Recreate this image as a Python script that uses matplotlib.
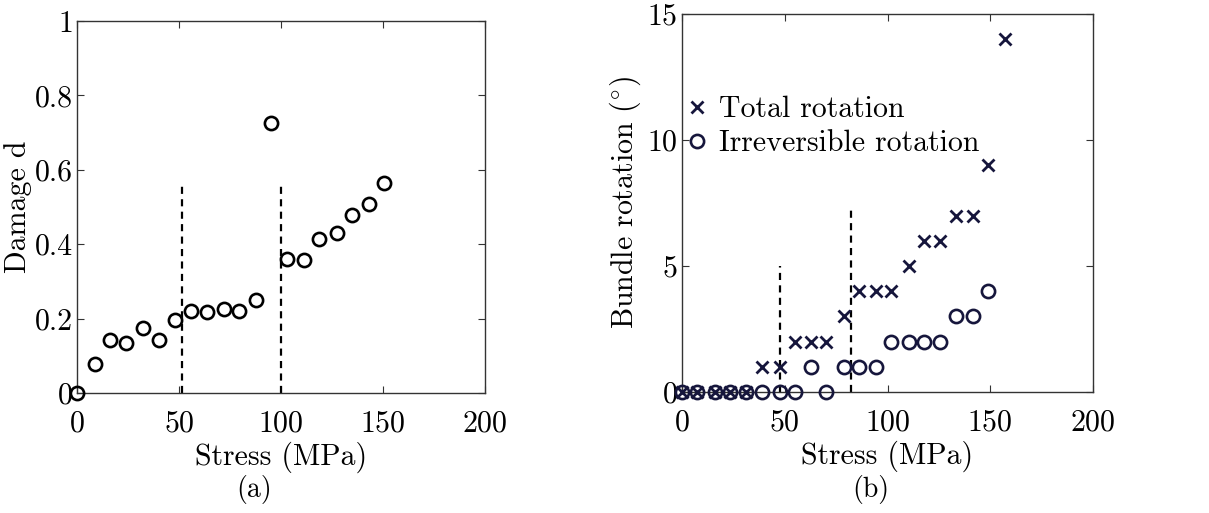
import matplotlib
matplotlib.use("Agg")
import matplotlib.pyplot as plt

plt.rcParams['font.family'] = ['cmr10', 'DejaVu Serif']
plt.rcParams['mathtext.fontset'] = 'cm'
plt.rcParams['axes.formatter.use_mathtext'] = True

# ---- Data (a) ----
stress_a = [0, 8.7, 16.0, 24.2, 32.5, 40.4, 47.8, 56.1, 63.8, 72.1, 79.5, 87.7,
            95.3, 102.7, 111.2, 118.7, 127.2, 134.7, 142.9, 150.6]
damage = [0.0, 0.079, 0.143, 0.135, 0.175, 0.143, 0.197, 0.220, 0.217, 0.226, 0.221,
          0.249, 0.726, 0.361, 0.357, 0.413, 0.431, 0.478, 0.508, 0.565]
dash_x_a = [51.7, 100.2]
dash_top_a = 0.56

# ---- Data (b) ----
stress_b = [0, 7.5, 15.9, 23.5, 31.3, 38.9, 47.5, 55.2, 62.8, 70.2, 78.8, 86.3,
            94.2, 101.9, 110.3, 117.6, 125.7, 133.3, 141.8, 148.9, 157.3]
total_rot = [0, 0, 0, 0, 0, 1, 1, 2, 2, 2, 3, 4, 4, 4, 5, 6, 6, 7, 7, 9, 14]
irrev_rot = [0, 0, 0, 0, 0, 0, 0, 0, 1, 0, 1, 1, 1, 2, 2, 2, 2, 3, 3, 4]
dash_x_b = [47.5, 82.4]
dash_top_b = [5.0, 7.3]

navy = '#16163c'
FS = 21.5

fig = plt.figure(figsize=(12.09, 5.13), dpi=100)
ax1 = fig.add_axes([0.0637, 0.2339, 0.3375, 0.7251])
ax2 = fig.add_axes([0.5641, 0.2359, 0.3400, 0.7368])

def style(ax):
    ax.tick_params(direction='in', top=True, right=True, length=5, width=0.8,
                   labelsize=FS, colors='#333333', labelcolor='black')
    ax.tick_params(axis='x', pad=12)
    ax.tick_params(axis='y', pad=3)
    for s in ax.spines.values():
        s.set_color('#333333')
        s.set_linewidth(1.0)

# (a)
ax1.plot(stress_a, damage, linestyle='none', marker='o', markersize=9.5,
         markerfacecolor='none', markeredgecolor='black', markeredgewidth=1.9,
         clip_on=False, zorder=3)
for x in dash_x_a:
    ax1.plot([x, x], [0, dash_top_a], color='black', linestyle=(0, (3.2, 2.4)), linewidth=1.6)
ax1.set_xlim(0, 200)
ax1.set_ylim(0, 1)
ax1.set_xticks([0, 50, 100, 150, 200])
ax1.set_yticks([0, 0.2, 0.4, 0.6, 0.8, 1])
ax1.set_yticklabels(['0', '0.2', '0.4', '0.6', '0.8', '1'])
ax1.set_xlabel('Stress (MPa)', fontsize=FS, labelpad=3)
ax1.set_ylabel('Damage d', fontsize=FS, labelpad=2)
style(ax1)

# (b)
ax2.plot(stress_b, total_rot, linestyle='none', marker='x', markersize=8.5,
         markeredgecolor=navy, markeredgewidth=2.0, clip_on=False, zorder=3,
         label='Total rotation')
ax2.plot(stress_b[:len(irrev_rot)], irrev_rot, linestyle='none', marker='o', markersize=9.5,
         markerfacecolor='none', markeredgecolor=navy, markeredgewidth=1.9,
         clip_on=False, zorder=3, label='Irreversible rotation')
for x, t in zip(dash_x_b, dash_top_b):
    ax2.plot([x, x], [0, t], color='black', linestyle=(0, (3.2, 2.4)), linewidth=1.6)
ax2.set_xlim(0, 200)
ax2.set_ylim(0, 15)
ax2.set_xticks([0, 50, 100, 150, 200])
ax2.set_yticks([0, 5, 10, 15])
ax2.set_xlabel('Stress (MPa)', fontsize=FS, labelpad=3)
ax2.set_ylabel('Bundle rotation ($^{\\circ}$)', fontsize=FS, labelpad=3)
style(ax2)
leg = ax2.legend(loc='upper left', bbox_to_anchor=(0.0, 0.80), frameon=False,
                 fontsize=FS, handlelength=0.6, handletextpad=0.45,
                 labelspacing=0.22, borderaxespad=0.0, borderpad=0.2)

fig.text(254 / 1209, 1 - 490 / 513, '(a)', fontsize=20, ha='center', va='center')
fig.text(871 / 1209, 1 - 490 / 513, '(b)', fontsize=20, ha='center', va='center')

fig.savefig('out.png', dpi=100)
